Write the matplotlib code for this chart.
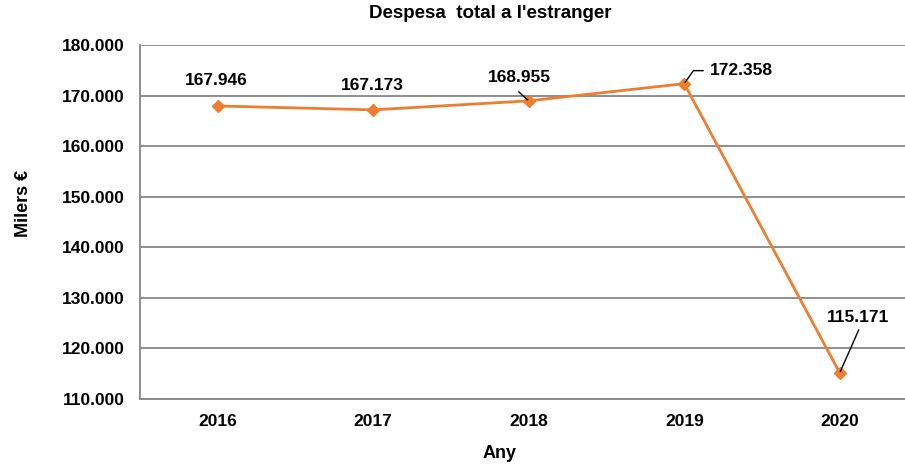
import matplotlib
matplotlib.use("Agg")
from matplotlib import pyplot as plt

years = ["2016", "2017", "2018", "2019", "2020"]
despesa = [167946, 167173, 168955, 172358, 115171]
labels = ["167.946", "167.173", "168.955", "172.358", "115.171"]
# label offsets from each point, in pixels
label_offsets = [(-1.5, 25), (-1, 24.5), (-9, 23), (57, 13), (18.5, 55)]
yticks = [110000, 120000, 130000, 140000, 150000, 160000, 170000, 180000]

plt.rcParams['font.family'] = ['Liberation Sans', 'DejaVu Sans']
plt.rcParams['font.weight'] = 'bold'

orange = "#ED7D31"
grey = "#868686"

fig = plt.figure(figsize=(9.05, 4.65), dpi=100)
ax = fig.add_axes([140 / 905, 66 / 465, 777.5 / 905, 354 / 465])

x = range(len(years))
ax.plot(x, despesa, color=orange, lw=2.0, marker="D", markersize=6, zorder=3, clip_on=False)

ax.set_xlim(-0.5, 4.5)
ax.set_ylim(110000, 180000)
ax.set_yticks(yticks)
ax.set_yticklabels([f"{v // 1000}.000" for v in yticks])
ax.set_xticks(list(x))
ax.set_xticklabels(years)
ax.tick_params(axis="both", length=0, labelsize=12.5)
ax.tick_params(axis="y", pad=11)
ax.tick_params(axis="x", pad=11)

ax.grid(axis="y", color=grey, lw=1.3)
ax.set_axisbelow(True)
for side in ["top", "right"]:
    ax.spines[side].set_visible(False)
for side in ["left", "bottom"]:
    ax.spines[side].set_color(grey)
    ax.spines[side].set_linewidth(1.3)

for i in range(len(years)):
    ax.annotate(labels[i], xy=(i, despesa[i]), xytext=label_offsets[i],
                textcoords="offset pixels", ha="center", va="center",
                fontsize=12.5, fontweight="bold")

# leader lines
ax.annotate("", xy=(2, despesa[2]), xytext=(-10, 9), textcoords="offset pixels",
            arrowprops=dict(arrowstyle="-", color="black", lw=1, shrinkA=0, shrinkB=1))
ax.annotate("", xy=(3, despesa[3]), xytext=(19, 13), textcoords="offset pixels",
            arrowprops=dict(arrowstyle="-", color="black", lw=1, shrinkA=0, shrinkB=1,
                            connectionstyle="angle,angleA=0,angleB=55,rad=0"))
ax.annotate("", xy=(4, despesa[4]), xytext=(19, 43), textcoords="offset pixels",
            arrowprops=dict(arrowstyle="-", color="black", lw=1, shrinkA=0, shrinkB=1))

fig.text(23 / 905, 1 - 203 / 465, "Milers €", rotation=90, ha="center", va="center",
         fontsize=13, fontweight="bold")
fig.text(500 / 905, 1 - 453 / 465, "Any", ha="center", va="center",
         fontsize=13, fontweight="bold")
fig.text(490 / 905, 1 - 14 / 465, "Despesa  total a l'estranger", ha="center", va="center",
         fontsize=13.5, fontweight="bold")

fig.savefig("out.png", dpi=100)
